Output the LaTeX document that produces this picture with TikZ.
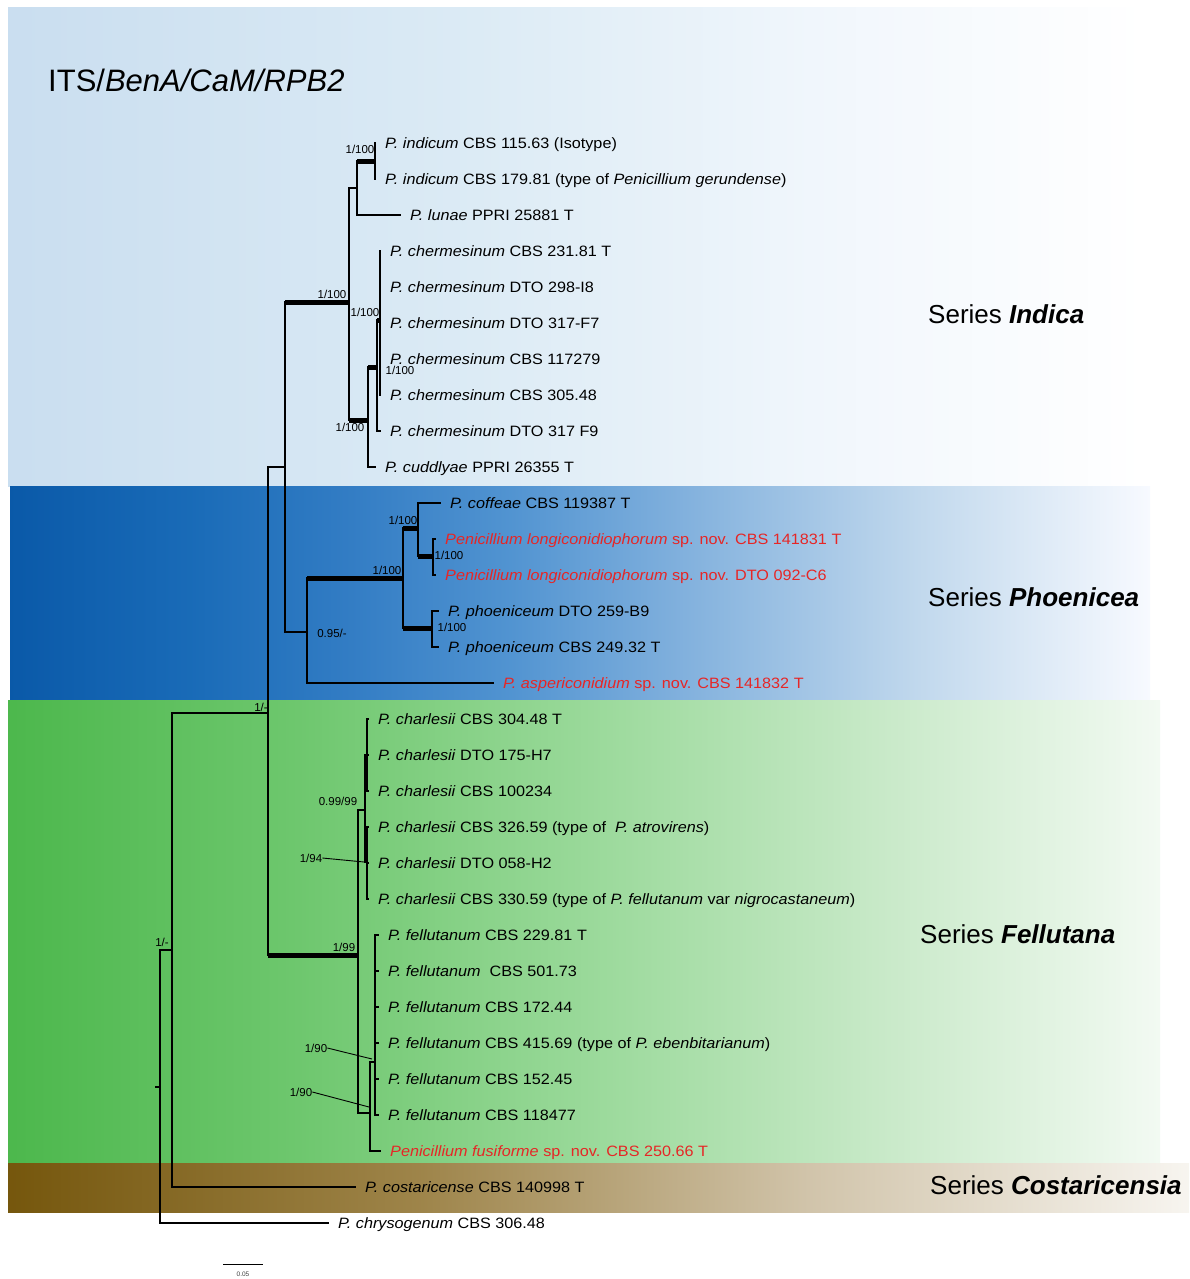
\documentclass[tikz,border=0pt]{standalone}
\usepackage{fontspec}
\setmainfont{Liberation Sans}
\newfontfamily\leaffont{Liberation Sans}[FakeStretch=1.08]
\definecolor{novred}{RGB}{230,38,38}
% horizontal shadings: path edges map to 25bp (left) and 75bp (right)
\pgfdeclarehorizontalshading{indsh}{100bp}{rgb(0bp)=(0.79,0.87,0.94); rgb(25bp)=(0.79,0.87,0.94); rgb(45bp)=(0.86,0.92,0.96); rgb(62bp)=(0.95,0.97,0.99); rgb(75bp)=(1,1,1); rgb(100bp)=(1,1,1)}
\pgfdeclarehorizontalshading{phosh}{100bp}{rgb(0bp)=(0.04,0.35,0.66); rgb(25bp)=(0.04,0.35,0.66); rgb(33bp)=(0.10,0.42,0.72); rgb(40bp)=(0.20,0.49,0.77); rgb(47bp)=(0.32,0.58,0.82); rgb(55bp)=(0.52,0.70,0.87); rgb(65bp)=(0.76,0.85,0.93); rgb(75bp)=(0.97,0.98,1); rgb(100bp)=(0.97,0.98,1)}
\pgfdeclarehorizontalshading{felsh}{100bp}{rgb(0bp)=(0.30,0.72,0.30); rgb(25bp)=(0.30,0.72,0.30); rgb(37.5bp)=(0.43,0.78,0.43); rgb(50bp)=(0.60,0.85,0.60); rgb(64bp)=(0.80,0.92,0.80); rgb(75bp)=(0.95,0.98,0.95); rgb(100bp)=(0.95,0.98,0.95)}
\pgfdeclarehorizontalshading{cossh}{100bp}{rgb(0bp)=(0.46,0.34,0.05); rgb(25bp)=(0.46,0.34,0.05); rgb(42.5bp)=(0.62,0.52,0.29); rgb(59bp)=(0.82,0.77,0.67); rgb(75bp)=(0.97,0.96,0.94); rgb(100bp)=(0.97,0.96,0.94)}
\begin{document}
\begin{tikzpicture}[x=1pt,y=-1pt,
  br/.style={line width=1.2pt},
  thk/.style={line width=5pt},
  ptr/.style={line width=0.9pt},
  leaf/.style={anchor=west, inner xsep=9pt, inner ysep=0pt, text height=12pt, text depth=2pt, font=\leaffont\fontsize{15}{17}\selectfont},
  sup/.style={inner sep=0pt, font=\fontsize{11.5}{13}\selectfont},
  series/.style={anchor=base west, inner sep=0pt, font=\fontsize{26}{30}\selectfont}]
\useasboundingbox (0,0) rectangle (1189,1279);
% background bands
\shade[shading=indsh] (8,8) rectangle (1145,486);
\shade[shading=phosh] (10,486) rectangle (1150,700);
\shade[shading=felsh] (8,700) rectangle (1160,1163);
\shade[shading=cossh] (8,1163) rectangle (1189,1212);
% title
\node[anchor=base west, inner sep=0pt, font=\fontsize{31}{36}\selectfont] (title) at (48,92) {ITS/\textit{BenA/CaM/RPB2}};
% series labels
\node[series] (serInd) at (928,323) {Series \textbf{\textit{Indica}}};
\node[series] (serPho) at (928,606) {Series \textbf{\textit{Phoenicea}}};
\node[series] (serFel) at (920,943) {Series \textbf{\textit{Fellutana}}};
\node[series] (serCos) at (930,1194) {Series \textbf{\textit{Costaricensia}}};
% leaves
\node[leaf] (i1) at (376,143) {\textit{P. indicum} CBS 115.63 (Isotype)};
\node[leaf] (i2) at (376,179) {\textit{P. indicum} CBS 179.81 (type of \textit{Penicillium gerundense})};
\node[leaf] (lun) at (401,215) {\textit{P. lunae} PPRI 25881 T};
\node[leaf] (c1) at (381,251) {\textit{P. chermesinum} CBS 231.81 T};
\node[leaf] (c2) at (381,287) {\textit{P. chermesinum} DTO 298-I8};
\node[leaf] (c3) at (381,323) {\textit{P. chermesinum} DTO 317-F7};
\node[leaf] (c4) at (381,359) {\textit{P. chermesinum} CBS 117279};
\node[leaf] (c5) at (381,395) {\textit{P. chermesinum} CBS 305.48};
\node[leaf] (c6) at (381,431) {\textit{P. chermesinum} DTO 317 F9};
\node[leaf] (cud) at (376,467) {\textit{P. cuddlyae} PPRI 26355 T};
\node[leaf] (cof) at (441,503) {\textit{P. coffeae} CBS 119387 T};
\node[leaf,text=novred] (lo1) at (436,539) {\textit{Penicillium longiconidiophorum} sp. nov. CBS 141831 T};
\node[leaf,text=novred] (lo2) at (436,575) {\textit{Penicillium longiconidiophorum} sp. nov. DTO 092-C6};
\node[leaf] (ph1) at (439,611) {\textit{P. phoeniceum} DTO 259-B9};
\node[leaf] (ph2) at (439,647) {\textit{P. phoeniceum} CBS 249.32 T};
\node[leaf,text=novred] (asp) at (494,683) {\textit{P. aspericonidium} sp. nov. CBS 141832 T};
\node[leaf] (ch1) at (369,719) {\textit{P. charlesii} CBS 304.48 T};
\node[leaf] (ch2) at (369,755) {\textit{P. charlesii} DTO 175-H7};
\node[leaf] (ch3) at (369,791) {\textit{P. charlesii} CBS 100234};
\node[leaf] (ch4) at (369,827) {\textit{P. charlesii} CBS 326.59 (type of \ \textit{P. atrovirens})};
\node[leaf] (ch5) at (369,863) {\textit{P. charlesii} DTO 058-H2};
\node[leaf] (ch6) at (369,899) {\textit{P. charlesii} CBS 330.59 (type of \textit{P. fellutanum} var \textit{nigrocastaneum})};
\node[leaf] (fe1) at (379,935) {\textit{P. fellutanum} CBS 229.81 T};
\node[leaf] (fe2) at (379,971) {\textit{P. fellutanum} \ CBS 501.73};
\node[leaf] (fe3) at (379,1007) {\textit{P. fellutanum} CBS 172.44};
\node[leaf] (fe4) at (379,1043) {\textit{P. fellutanum} CBS 415.69 (type of \textit{P. ebenbitarianum})};
\node[leaf] (fe5) at (379,1079) {\textit{P. fellutanum} CBS 152.45};
\node[leaf] (fe6) at (379,1115) {\textit{P. fellutanum} CBS 118477};
\node[leaf,text=novred] (fus) at (381,1151) {\textit{Penicillium fusiforme} sp. nov. CBS 250.66 T};
\node[leaf] (cos) at (356,1187) {\textit{P. costaricense} CBS 140998 T};
\node[leaf] (chr) at (329,1223) {\textit{P. chrysogenum} CBS 306.48};
% internal nodes
\coordinate (R0) at (155,1087);
\coordinate (R) at (160,1087);
\coordinate (NC) at (172,950);
\coordinate (NIPF) at (268,713);
\coordinate (NIP) at (285,467);
\coordinate (F0) at (358,955);
\coordinate (Ind) at (349,302);
\coordinate (P0) at (307,632);
\coordinate (A2) at (357,188);
\coordinate (C1) at (368,420);
\coordinate (A1) at (375,161);
\coordinate (C2) at (377,367);
\coordinate (C3) at (380,320);
\coordinate (P1) at (403,578);
\coordinate (P2) at (418,528);
\coordinate (P4) at (432,628);
\coordinate (P3) at (433,556);
\coordinate (F1) at (365,810);
\coordinate (F2) at (370,1113);
\coordinate (Ca) at (367,755);
\coordinate (Cb) at (367,862);
\coordinate (F3) at (375,1062);
% branches
\draw[br] (R0) -- (R);
\draw[br] (R) |- (NC);
\draw[br] (R) |- (chr.west);
\draw[br] (NC) |- (NIPF);
\draw[br] (NC) |- (cos.west);
\draw[br] (NIPF) |- (NIP);
\draw[br] (NIPF) |- (F0);
\draw[thk] (NIPF |- F0) -- (F0);
\draw[br] (NIP) |- (Ind);
\draw[thk] (NIP |- Ind) -- (Ind);
\draw[br] (NIP) |- (P0);
\draw[br] (Ind) |- (A2);
\draw[br] (Ind) |- (C1);
\draw[thk] (Ind |- C1) -- (C1);
\draw[br] (A2) |- (A1);
\draw[thk] (A2 |- A1) -- (A1);
\draw[br] (A2) |- (lun.west);
\draw[br] (A1) |- (i1.west);
\draw[br] (A1) |- (i2.west);
\draw[br] (C1) |- (C2);
\draw[thk] (C1 |- C2) -- (C2);
\draw[br] (C1) |- (cud.west);
\draw[br] (C2) |- (C3);
\draw[thk] (C2 |- C3) -- (C3);
\draw[br] (C2) |- (c6.west);
\foreach \l in {c1,c2,c3,c4,c5} \draw[br] (C3) |- (\l.west);
\draw[br] (P0) |- (P1);
\draw[thk] (P0 |- P1) -- (P1);
\draw[br] (P0) |- (asp.west);
\draw[br] (P1) |- (P2);
\draw[thk] (P1 |- P2) -- (P2);
\draw[br] (P1) |- (P4);
\draw[thk] (P1 |- P4) -- (P4);
\draw[br] (P2) |- (cof.west);
\draw[br] (P2) |- (P3);
\draw[thk] (P2 |- P3) -- (P3);
\draw[br] (P3) |- (lo1.west);
\draw[br] (P3) |- (lo2.west);
\draw[br] (P4) |- (ph1.west);
\draw[br] (P4) |- (ph2.west);
\draw[br] (F0) |- (F1);
\draw[br] (F0) |- (F2);
\draw[br] (F1) |- (Ca);
\draw[br] (F1) |- (Cb);
\foreach \l in {ch1,ch2,ch3} \draw[br] (Ca) |- (\l.west);
\foreach \l in {ch4,ch5,ch6} \draw[br] (Cb) |- (\l.west);
\draw[br] (F2) |- (F3);
\draw[br] (F2) |- (fus.west);
\foreach \l in {fe1,fe2,fe3,fe4,fe5,fe6} \draw[br] (F3) |- (\l.west);
% support values
\node[sup] (s1) at (360,149) {1/100};
\node[sup] (s2) at (332,294) {1/100};
\node[sup] (s3) at (365,312) {1/100};
\node[sup] (s4) at (400,370) {1/100};
\node[sup] (s5) at (350,427) {1/100};
\node[sup] (s6) at (403,520) {1/100};
\node[sup] (s7) at (449,555) {1/100};
\node[sup] (s8) at (387,570) {1/100};
\node[sup] (s9) at (452,627) {1/100};
\node[sup] (s10) at (332,633) {0.95/-};
\node[sup] (s11) at (261,707) {1/-};
\node[sup] (s12) at (338,801) {0.99/99};
\node[sup] (s13) at (311,858) {1/94};
\node[sup] (s14) at (344,947) {1/99};
\node[sup] (s15) at (162,942) {1/-};
\node[sup] (s16) at (316,1048) {1/90};
\node[sup] (s17) at (301,1092) {1/90};
\coordinate (q13) at (364,862);
\coordinate (q16) at (372,1059);
\coordinate (q17) at (369,1107);
\draw[ptr] (s13.east) -- (q13);
\draw[ptr] (s16.east) -- (q16);
\draw[ptr] (s17.east) -- (q17);
% scale bar
\coordinate (sb1) at (223,1264);
\coordinate (sb2) at (263,1264);
\draw[line width=1pt] (sb1) -- (sb2);
\node[inner sep=0pt, font=\fontsize{6.5}{7}\selectfont, text=black!75] (sbl) at (243,1274) {0.05};
\end{tikzpicture}
\end{document}
